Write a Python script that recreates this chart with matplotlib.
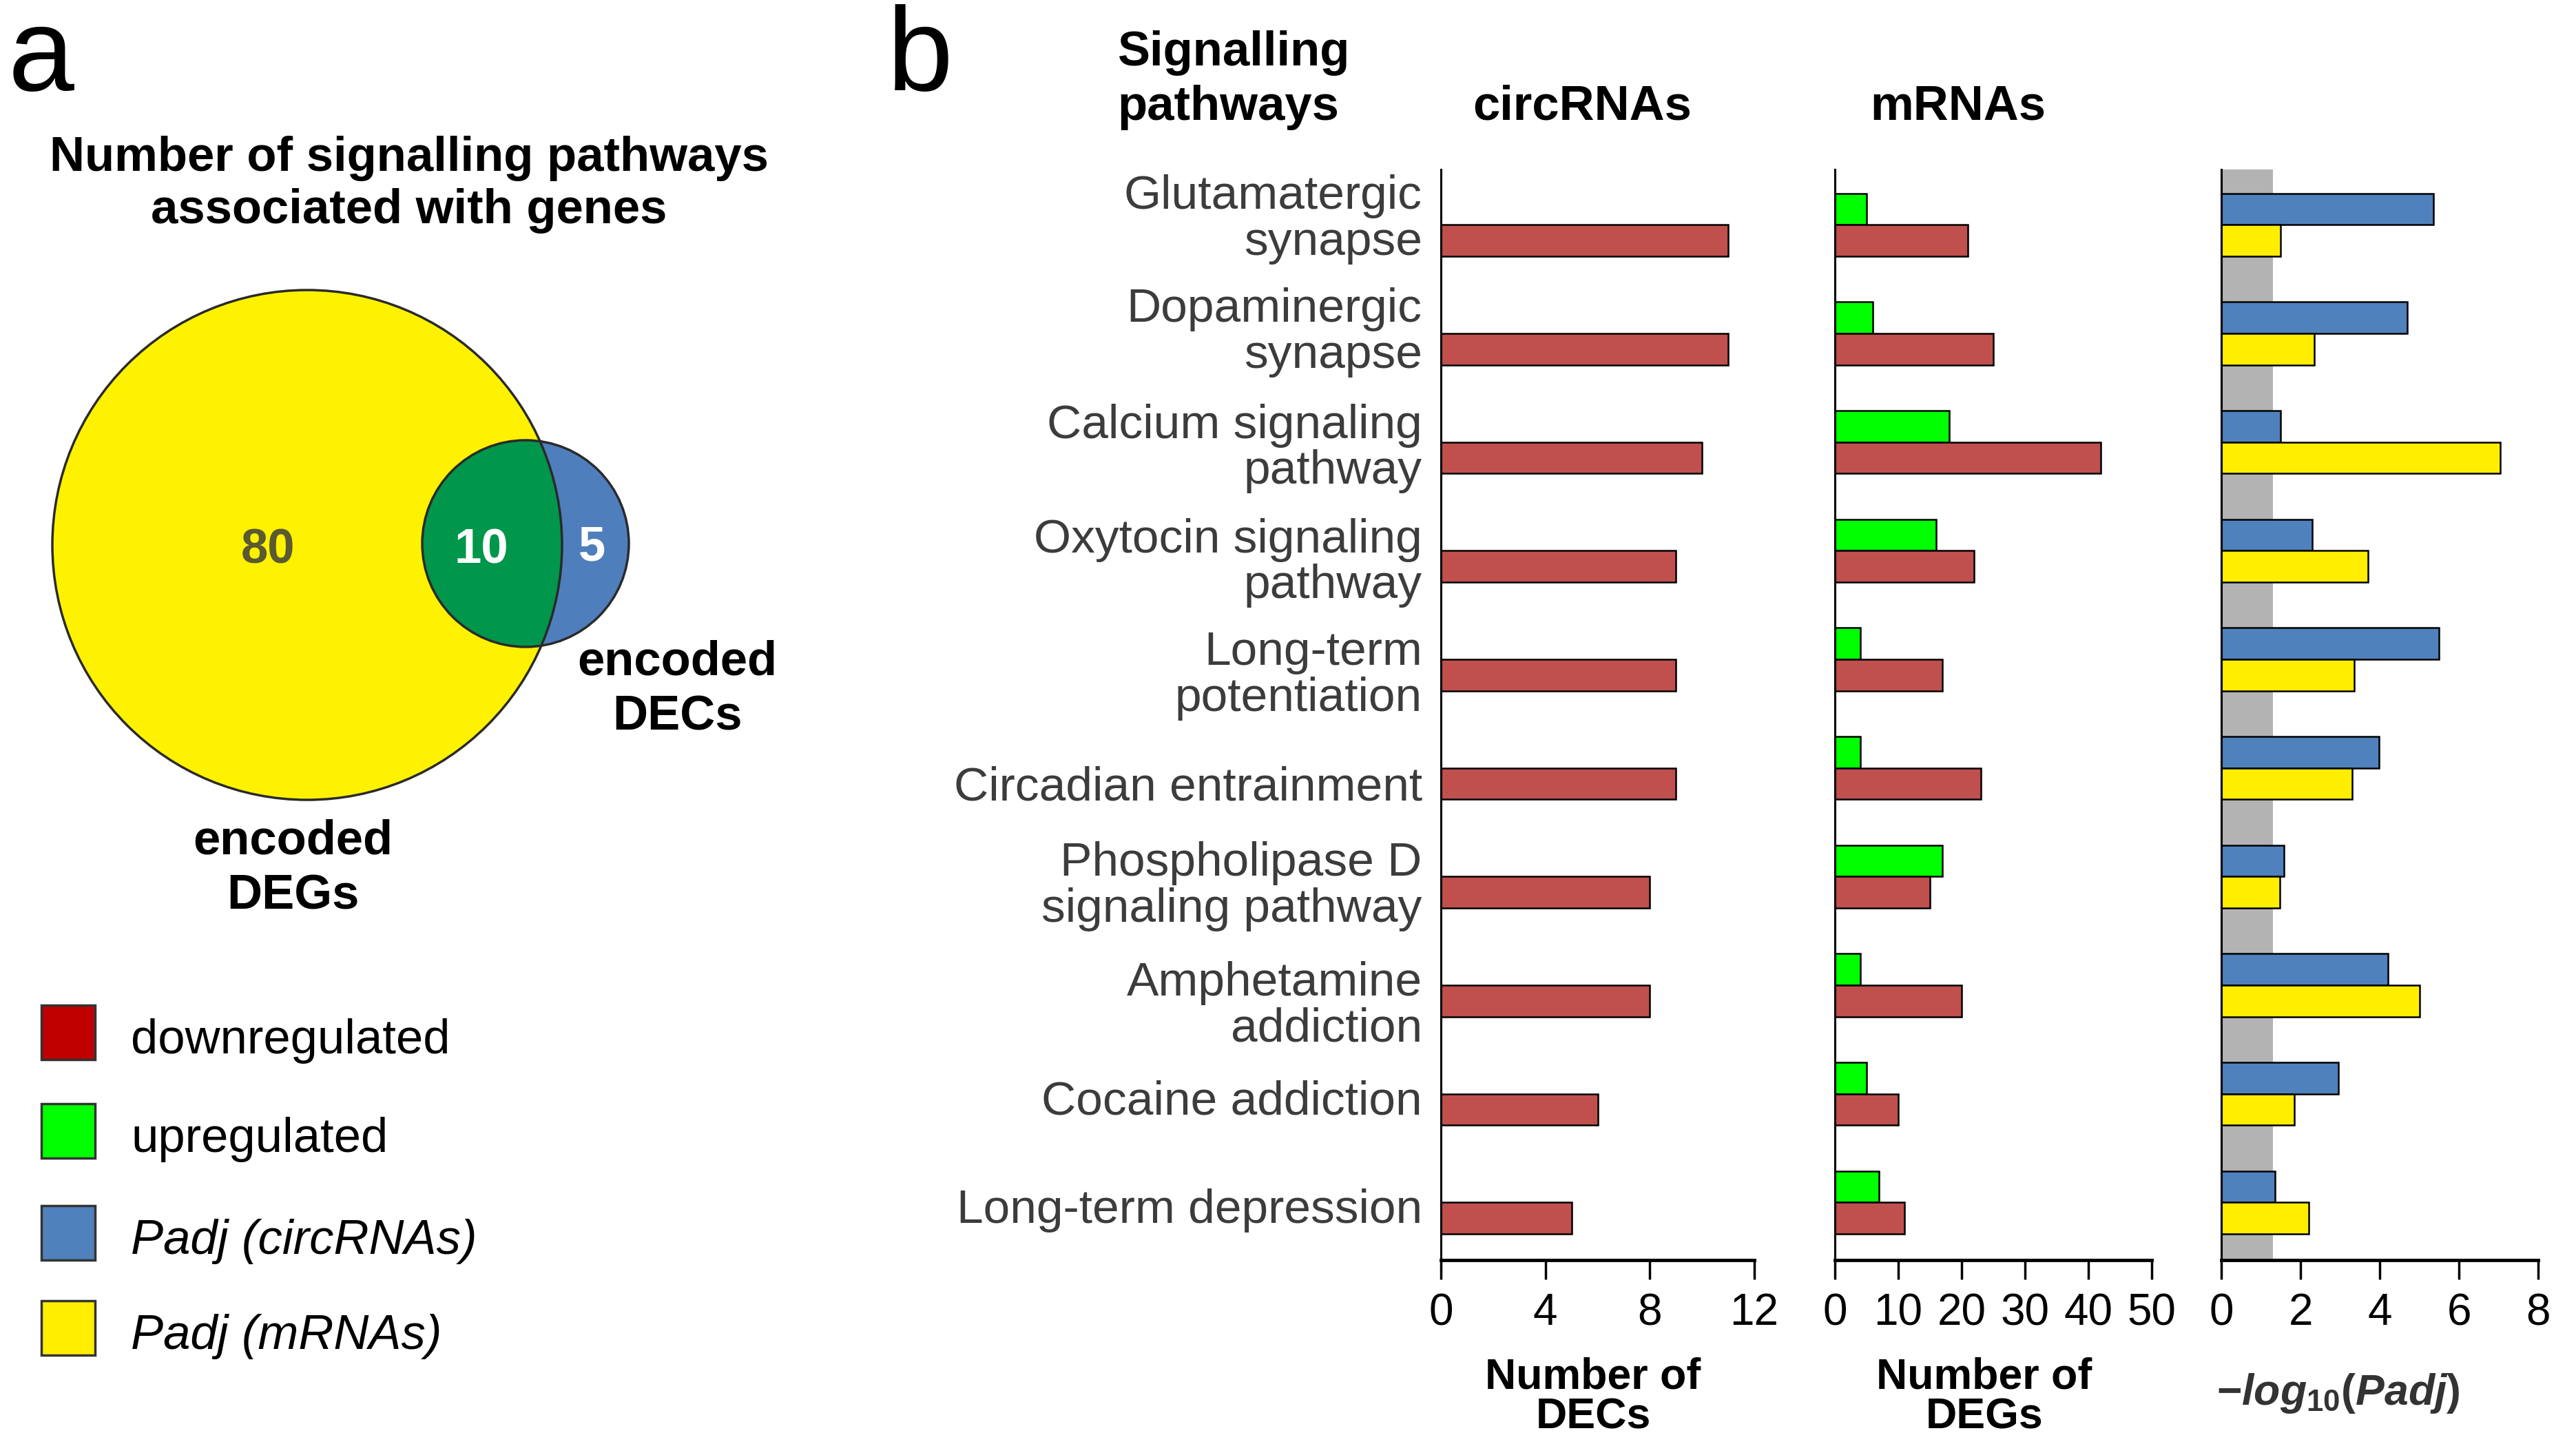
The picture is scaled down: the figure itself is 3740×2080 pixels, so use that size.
"""Signalling pathways figure: Venn counts (a) and pathway bar panels (b)."""
import matplotlib

matplotlib.use("Agg")
import matplotlib.pyplot as plt
import numpy as np
from matplotlib import font_manager
from matplotlib.patches import Circle, Rectangle
from matplotlib.transforms import blended_transform_factory

# ---- data ---------------------------------------------------------------
pathways = [
    "Glutamatergic\nsynapse",
    "Dopaminergic\nsynapse",
    "Calcium signaling\npathway",
    "Oxytocin signaling\npathway",
    "Long-term\npotentiation",
    "Circadian entrainment",
    "Phospholipase D\nsignaling pathway",
    "Amphetamine\naddiction",
    "Cocaine addiction",
    "Long-term depression",
]
dec_down = [11, 11, 10, 9, 9, 9, 8, 8, 6, 5]
deg_up = [5, 6, 18, 16, 4, 4, 17, 4, 5, 7]
deg_down = [21, 25, 42, 22, 17, 23, 15, 20, 10, 11]
padj_circ = [5.35, 4.7, 1.5, 2.3, 5.5, 3.98, 1.58, 4.2, 2.95, 1.35]
padj_mrna = [1.5, 2.35, 7.05, 3.7, 3.35, 3.3, 1.48, 5.0, 1.85, 2.2]
padj_cutoff = 1.3

venn_deg_only = 80
venn_shared = 10
venn_dec_only = 5

legend_labels = ["downregulated", "upregulated", "Padj (circRNAs)", "Padj (mRNAs)"]
legend_colors = ["#C00000", "#00FF00", "#4F81BD", "#FFEE00"]
legend_italic = [False, False, True, True]

circ_ticks = [0, 4, 8, 12]
mrna_ticks = [0, 10, 20, 30, 40, 50]
padj_ticks = [0, 2, 4, 6, 8]

RED = "#C0504D"
GREEN = "#00FF00"
BLUE = "#4F81BD"
YELLOW = "#FFEE00"

W, H = 3740, 2080

# vertical placement of the pathway names, in category units (layout only)
label_dy = [-0.05, -0.01, 0.06, 0.11, 0.15, 0.18, 0.09, 0.19, 0.075, 0.075]


def main() -> None:
    names = {f.name for f in font_manager.fontManager.ttflist}
    has_narrow = "Liberation Sans Narrow" in names
    narrow = "Liberation Sans Narrow" if has_narrow else "Liberation Sans"
    k = 1.0 if has_narrow else 0.82  # shrink sizes when no narrow face

    plt.rcParams["font.family"] = ["Liberation Sans", "DejaVu Sans"]
    plt.rcParams["mathtext.fontset"] = "custom"
    plt.rcParams["mathtext.it"] = f"{narrow}:italic:bold"
    plt.rcParams["mathtext.rm"] = f"{narrow}:bold"

    fig = plt.figure(figsize=(W / 100, H / 100), dpi=100)

    # overlay in pixel coordinates for the Venn and free text
    cv = fig.add_axes([0, 0, 1, 1])
    cv.set_xlim(0, W)
    cv.set_ylim(H, 0)
    cv.axis("off")

    bold = dict(family=[narrow, "DejaVu Sans"], weight="bold")
    big = 62 * k

    # ---- panel a ---------------------------------------------------------
    cv.text(12, 131, "a", fontsize=124, va="baseline", ha="left")
    cv.text(594, 248, "Number of signalling pathways", fontsize=big, ha="center", va="baseline", **bold)
    cv.text(594, 324, "associated with genes", fontsize=big, ha="center", va="baseline", **bold)

    deg_circle = Circle((446, 791), 370, fc="#FFF200", ec="none", zorder=1)
    dec_circle = Circle((763, 789), 150, fc="#4F7EBD", ec="none", zorder=2)
    shared = Circle((763, 789), 150, fc="#00964B", ec="none", zorder=3)
    cv.add_patch(deg_circle)
    cv.add_patch(dec_circle)
    cv.add_patch(shared)
    shared.set_clip_path(deg_circle)
    cv.add_patch(Circle((446, 791), 370, fc="none", ec="#2a2a2a", lw=2.5, zorder=4))
    cv.add_patch(Circle((763, 789), 150, fc="none", ec="#2a2a2a", lw=2.5, zorder=4))

    cv.text(389, 799, str(venn_deg_only), fontsize=big, color="#5a5a30", ha="center", va="center", zorder=5, **bold)
    cv.text(699, 799, str(venn_shared), fontsize=big, color="white", ha="center", va="center", zorder=5, **bold)
    cv.text(859, 796, str(venn_dec_only), fontsize=big, color="white", ha="center", va="center", zorder=5, **bold)

    cv.text(425, 1240, "encoded", fontsize=big, ha="center", va="baseline", **bold)
    cv.text(425, 1319, "DEGs", fontsize=big, ha="center", va="baseline", **bold)
    cv.text(983, 980, "encoded", fontsize=big, ha="center", va="baseline", **bold)
    cv.text(983, 1059, "DECs", fontsize=big, ha="center", va="baseline", **bold)

    leg_y = [1498, 1641, 1789, 1927]
    for yc, lab, col, ital in zip(leg_y, legend_labels, legend_colors, legend_italic):
        cv.add_patch(Rectangle((60, yc - 39), 78, 79, fc=col, ec="#333333", lw=2.5))
        cv.text(190, yc + 31, lab, fontsize=big, ha="left", va="baseline",
                family=[narrow, "DejaVu Sans"], style="italic" if ital else "normal")

    # ---- panel b ---------------------------------------------------------
    cv.text(1288, 131, "b", fontsize=124, va="baseline", ha="left")
    cv.text(1622, 95, "Signalling", fontsize=big, ha="left", va="baseline", **bold)
    cv.text(1622, 174, "pathways", fontsize=big, ha="left", va="baseline", **bold)
    cv.text(2297, 174, "circRNAs", fontsize=big, ha="center", va="baseline", **bold)
    cv.text(2843, 174, "mRNAs", fontsize=big, ha="center", va="baseline", **bold)

    top, bottom = 246, 1829
    ax_c = fig.add_axes([2092 / W, 1 - bottom / H, 455 / W, (bottom - top) / H])
    ax_m = fig.add_axes([2664 / W, 1 - bottom / H, 460 / W, (bottom - top) / H])
    ax_p = fig.add_axes([3225 / W, 1 - bottom / H, 460 / W, (bottom - top) / H])

    y = np.arange(len(pathways))
    h = 0.29
    bar_kw = dict(height=h, edgecolor="black", linewidth=1.8, zorder=2)
    ax_c.barh(y + h / 2, dec_down, color=RED, **bar_kw)
    ax_m.barh(y - h / 2, deg_up, color=GREEN, **bar_kw)
    ax_m.barh(y + h / 2, deg_down, color=RED, **bar_kw)
    ax_p.axvspan(0, padj_cutoff, color="#B3B3B3", lw=0, zorder=0)
    ax_p.barh(y - h / 2, padj_circ, color=BLUE, **bar_kw)
    ax_p.barh(y + h / 2, padj_mrna, color=YELLOW, **bar_kw)

    for ax, ticks in ((ax_c, circ_ticks), (ax_m, mrna_ticks), (ax_p, padj_ticks)):
        ax.set_facecolor("none")
        ax.set_ylim(9.53, -0.51)
        ax.set_xlim(ticks[0], ticks[-1])
        ax.set_xticks(ticks)
        ax.set_yticks([])
        for side in ("top", "right"):
            ax.spines[side].set_visible(False)
        ax.spines["left"].set_linewidth(2.2)
        ax.spines["bottom"].set_linewidth(3.5)
        ax.tick_params(axis="x", direction="out", length=20, width=2.5, pad=14, labelsize=56 * k)
        for lab in ax.get_xticklabels():
            lab.set_family([narrow, "DejaVu Sans"])

    trans = blended_transform_factory(ax_c.transAxes, ax_c.transData)
    for i, name in enumerate(pathways):
        ax_c.text(-0.06, i + label_dy[i], name, transform=trans, ha="right", va="center",
                  fontsize=50, color="#3c3c3c", linespacing=1.05, clip_on=False)

    xl = 55 * k
    cv.text(2313, 2015, "Number of", fontsize=xl, ha="center", va="baseline", **bold)
    cv.text(2313, 2073, "DECs", fontsize=xl, ha="center", va="baseline", **bold)
    cv.text(2881, 2015, "Number of", fontsize=xl, ha="center", va="baseline", **bold)
    cv.text(2881, 2073, "DEGs", fontsize=xl, ha="center", va="baseline", **bold)
    cv.text(3395, 2039, r"$\mathit{-log_{10}(Padj)}$", fontsize=xl, ha="center", va="baseline",
            color="#333333")

    fig.savefig("out.png", dpi=100)
    plt.close(fig)


if __name__ == "__main__":
    main()
